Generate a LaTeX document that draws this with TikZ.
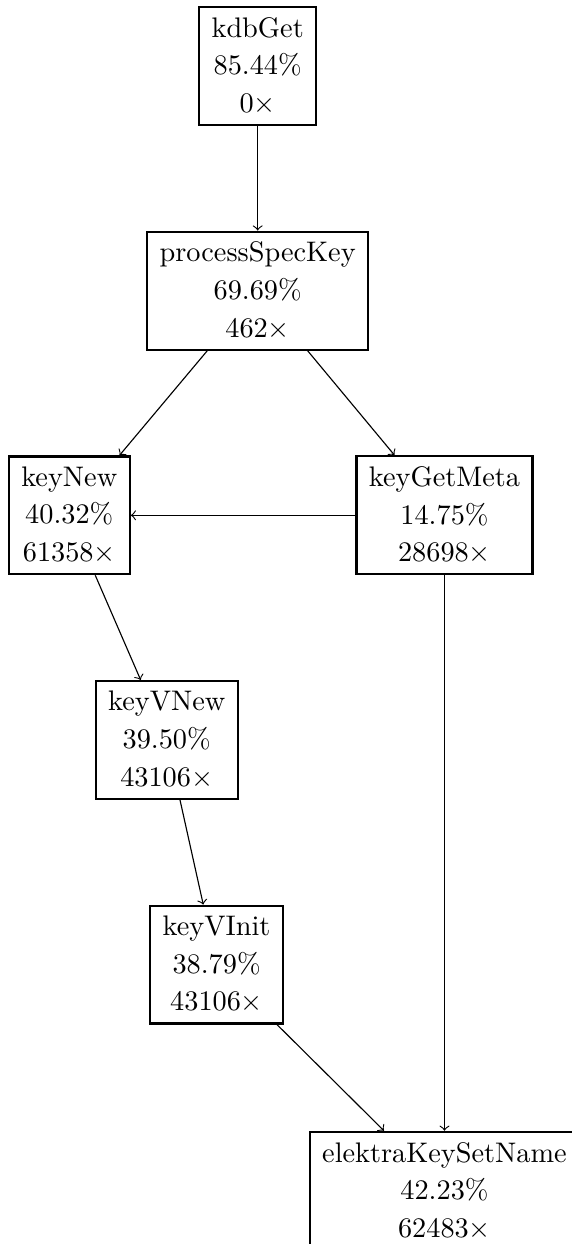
\documentclass[tikz,border=0pt]{standalone}
\usepackage{amssymb}
\usepackage{amsmath}
\usepackage{tikz}

\tikzset{fn/.style={draw, thick, align=center, inner xsep=4.4pt, inner ysep=3.6pt,
  font=\fontsize{10}{13.3}\selectfont}}

\begin{document}
\begin{tikzpicture}
          \useasboundingbox (0, 0) rectangle (7.104, -15.45);

          \node[fn](G)    at (3.20, -0.82)  {kdbGet\\85.44\%\\0$\times$};
          \node[fn](PSK)  at (3.20, -3.61)  {processSpecKey\\69.69\%\\462$\times$};
          \node[fn](KN)   at (0.86, -6.40)  {keyNew\\40.32\%\\61358$\times$};
          \node[fn](KGM)  at (5.52, -6.40)  {keyGetMeta\\14.75\%\\28698$\times$};
          \node[fn](KVN)  at (2.07, -9.19)  {keyVNew\\39.50\%\\43106$\times$};
          \node[fn](KVI)  at (2.69, -11.98) {keyVInit\\38.79\%\\43106$\times$};
          \node[fn](EKSN) at (5.52, -14.79) {elektraKeySetName\\42.23\%\\62483$\times$};

          \draw[->] (G) edge (PSK) (PSK) edge (KN) (PSK) edge (KGM);
          \draw[->] (KGM) edge (KN) (KGM) edge (EKSN);
          \draw[->] (KN) edge (KVN) (KVN) edge (KVI) (KVI) edge (EKSN);
        \end{tikzpicture}
\end{document}
